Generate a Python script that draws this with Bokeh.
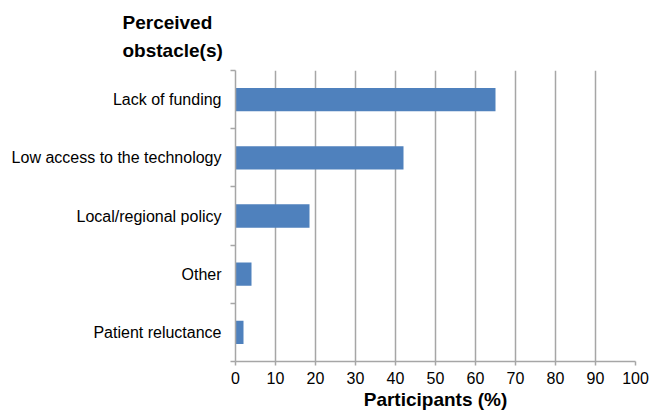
from bokeh.plotting import figure
from bokeh.models import Range1d, FixedTicker, ColumnDataSource
from bokeh.embed import file_html
from bokeh.resources import INLINE

# Perceived obstacles, listed top to bottom, with share of participants (%)
obstacles = ["Lack of funding", "Low access to the technology",
             "Local/regional policy", "Other", "Patient reluctance"]
participants_pct = [65, 42, 18.5, 4, 2]
x_ticks = [0, 10, 20, 30, 40, 50, 60, 70, 80, 90, 100]

FONT = "Liberation Sans"
GREY = "#a6a6a6"
n = len(obstacles)
# first category sits at the top of the plot
centers = [n - i - 0.5 for i in range(n)]

src = ColumnDataSource(dict(y=centers, pct=participants_pct, name=obstacles))

p = figure(width=650, height=420, output_backend="svg", toolbar_location=None,
           x_range=Range1d(0, 100), y_range=Range1d(0, n),
           min_border_left=235, min_border_right=15,
           min_border_top=69, min_border_bottom=59)
p.outline_line_color = None
p.background_fill_color = "white"
p.border_fill_color = "white"

p.title.text = "Perceived\nobstacle(s)"
p.title.align = "left"
p.title.offset = -113
p.title.text_font = FONT
p.title.text_font_size = "19px"
p.title.text_font_style = "bold"
p.title.text_color = "black"
p.title.text_line_height = 1.35
p.title.standoff = 19

p.hbar(y="y", right="pct", left=0, height=0.4, source=src,
       fill_color="#4f81bd", line_color=None)

# horizontal axis
xa = p.xaxis[0]
xa.ticker = FixedTicker(ticks=x_ticks)
xa.axis_label = "Participants (%)"
xa.axis_label_text_font = FONT
xa.axis_label_text_font_size = "19px"
xa.axis_label_text_font_style = "bold"
xa.axis_label_text_color = "black"
xa.axis_label_standoff = 2
xa.major_label_text_font = FONT
xa.major_label_text_font_size = "16px"
xa.major_label_text_color = "black"
xa.major_label_standoff = 6
xa.axis_line_color = GREY
xa.axis_line_width = 1.5
xa.major_tick_line_color = GREY
xa.major_tick_line_width = 1.5
xa.major_tick_in = 0
xa.major_tick_out = 4
xa.minor_tick_line_color = None

# vertical axis: labels at category centres, ticks at category boundaries
ya = p.yaxis[0]
ya.ticker = FixedTicker(ticks=centers, minor_ticks=list(range(n + 1)))
ya.major_label_overrides = {c: name for c, name in zip(centers, obstacles)}
ya.major_label_text_font = FONT
ya.major_label_text_font_size = "16px"
ya.major_label_text_color = "black"
ya.major_label_standoff = 8
ya.axis_line_color = GREY
ya.axis_line_width = 1.5
ya.major_tick_line_color = None
ya.minor_tick_line_color = GREY
ya.minor_tick_line_width = 1.5
ya.minor_tick_in = 0
ya.minor_tick_out = 5

p.xgrid.grid_line_color = GREY
p.xgrid.grid_line_width = 1.5
p.ygrid.grid_line_color = None

open("out.html", "w").write(file_html(p, INLINE))
